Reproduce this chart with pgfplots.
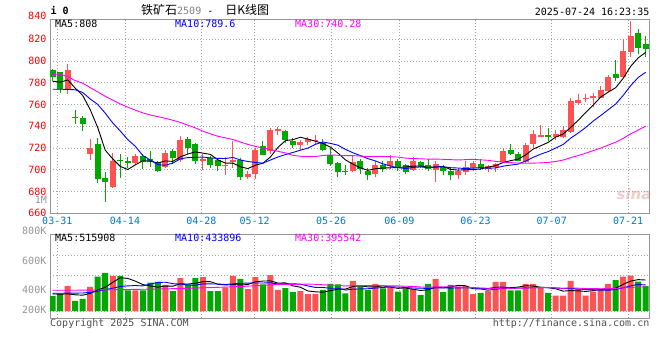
\documentclass[border=0pt]{standalone}
\usepackage{pgfplots}
\pgfplotsset{compat=1.18}
\usepackage{pgfplotstable}
\usepackage{fontspec}
\setmonofont{DejaVu Sans Mono}
\newfontfamily\cjk{Noto Sans CJK SC}
\newfontfamily\sinafont{DejaVu Sans}
\definecolor{kred}{RGB}{255,82,82}
\definecolor{kgreen}{RGB}{0,168,0}
\definecolor{mablue}{RGB}{0,0,255}
\definecolor{mamag}{RGB}{255,0,255}
\definecolor{dateblue}{RGB}{0,120,205}
\definecolor{gridc}{RGB}{165,165,165}
\definecolor{boxc}{RGB}{150,150,150}
\definecolor{lblgray}{RGB}{150,150,150}
\definecolor{copyc}{RGB}{80,80,80}
\definecolor{wm}{RGB}{238,205,205}
\pgfplotstableread{
x up o h l c v m5 m10 m30 w5 w10 w30
0 0 791.3 792.3 781.3 785.2 250 781.3 774 787.5 285 295 345
1 0 789.4 790.0 770.2 773.8 283 780.5 774 788 280 295 345
2 1 774.5 797.5 769.2 792.0 416 782.5 773.8 785.5 285 298 346
3 0 748.7 754.5 742.5 747.5 167 775 773.5 782 270 298 346
4 0 747.7 749.8 736.0 742.5 200 768.2 771 779.5 263.2 300 347
5 1 714.8 728.6 709.2 720.0 400 755.2 765 775.5 293.2 310 348
6 0 724.0 729.2 687.7 691.7 571 738.7 760 771.5 350.8 330 350
7 0 692.3 697.8 670.2 688.3 633 718.0 752 767.5 394.2 355 352
8 1 684.4 715.2 683.7 707.7 583 710.0 743 764 477.4 380 354
9 0 709.2 714.8 692.3 707.7 583 703.1 735.6 760.5 554 408.6 356
10 0 707.7 711.4 701.5 705.8 345 700.2 727.7 757.5 543 418.1 358
11 1 706.6 714.5 705.2 712.9 345 704.5 721.6 754.8 497.8 424.3 360
12 0 712.7 714.5 700.9 706.8 345 708.2 713.1 752.3 440.2 417.2 362
13 0 709.8 717.6 702.2 706.8 471 708.0 709.0 750.3 417.8 447.6 364
14 0 707.2 708.3 697.8 698.5 483 706.2 704.6 748.8 397.8 475.9 366
15 1 702.6 718.3 701.5 715.4 433 708.1 704.2 747.3 415.4 479.2 369
16 0 717.5 719.4 705.2 710.8 333 707.7 706.1 745.5 413 455.4 372
17 1 708.6 731.4 707.0 727.7 549 711.8 710.0 743.5 453.8 447 375
18 0 728.6 730.2 714.5 720.0 445 714.5 711.2 741 448.6 433.2 378
19 0 723.7 724.6 705.5 708.3 549 716.4 711.3 738.5 461.8 429.8 382
20 1 707.7 714.5 700.0 709.8 566 715.3 711.7 735.5 488.4 451.9 386
21 0 710.8 713.0 702.0 704.6 333 714.1 710.9 733 488.4 450.7 390
22 0 708.6 710.8 699.1 703.1 333 709.2 710.5 730.8 445.2 449.5 394
23 1 703.1 711.4 695.4 704.6 388 706.1 710.3 729.3 433.8 441.2 398
24 1 706.8 726.2 701.5 708.6 583 706.1 711.3 727.8 440.6 451.2 403
25 0 709.2 710.8 690.2 692.9 533 702.8 709.0 725.5 434 461.2 408
26 1 693.8 698.5 691.7 696.3 366 701.1 707.6 723.3 440.6 464.5 414
27 1 696.3 720.0 691.7 718.5 566 704.2 706.7 721.5 487.2 466.2 421
28 0 722.2 726.8 713.2 713.8 445 706.0 706.1 720 498.6 466.2 428
29 1 716.9 738.5 714.5 736.9 599 711.7 708.9 718.6 501.8 471.2 436.5
30 1 735.4 739.0 731.7 737.2 350 720.5 711.7 717.0 465.2 449.6 439.9
31 0 736.0 736.5 724.6 727.7 383 726.8 714.0 715.5 468.6 454.6 443.2
32 0 726.2 729.2 720.0 722.5 316 727.6 715.9 713.2 418.6 452.9 439.9
33 1 722.5 727.7 718.5 725.2 333 729.9 718.0 712.4 396.2 447.4 445.4
34 1 725.2 730.2 722.5 728.3 283 728.2 719.9 712.0 333 417.4 448.2
35 1 726.2 732.3 723.1 727.4 283 726.2 723.4 712.2 319.6 392.4 444.3
36 0 724.6 728.6 716.9 717.8 350 724.2 725.5 713.1 313 390.8 436.9
37 0 713.8 720.0 703.1 705.5 450 720.8 724.2 713.6 339.8 379.2 430.8
38 0 706.2 706.8 692.9 697.5 445 715.3 722.6 713.3 362.2 379.2 426.2
39 0 699.1 704.6 694.8 697.5 295 709.1 718.7 713.0 364.6 348.8 416.6
40 1 699.1 712.3 697.8 707.0 500 705.1 715.6 713.0 408 363.8 421.8
41 0 708.3 709.8 696.3 700.9 416 701.7 713.0 712.6 421.2 367.1 424.1
42 0 698.5 701.5 690.2 694.8 350 699.5 710.2 712.2 401.2 370.5 424.3
43 1 696.3 707.7 693.8 704.6 450 701.0 708.1 712.1 402.2 382.2 423.6
44 0 704.6 707.7 697.8 700.9 378 701.6 705.4 712.2 418.8 391.7 420.1
45 1 703.1 713.8 700.9 707.7 388 701.8 703.4 712.0 396.4 402.2 418.6
46 0 707.7 709.8 699.0 702.5 321 702.1 701.9 711.7 377.4 399.3 418.2
47 0 704.6 705.2 695.9 697.5 366 702.6 701.1 710.7 380.6 390.9 412.1
48 1 700.0 711.4 698.5 707.7 366 703.3 702.1 710.3 363.8 383 409.5
49 0 706.8 707.7 701.5 702.2 266 703.5 702.6 710.1 341.4 380.1 400
50 0 704.6 710.2 698.5 700.9 450 702.2 702.0 709.8 353.8 375.1 396.2
51 1 699.4 707.7 689.2 705.2 533 702.7 702.4 709.8 396.2 386.8 402.8
52 0 702.2 704.0 694.8 699.1 316 703.0 702.8 709.6 386.2 383.4 402.3
53 0 698.5 701.5 690.2 694.8 433 700.4 701.9 709.3 399.6 381.7 403.8
54 1 695.4 701.5 691.7 698.5 405 699.7 701.6 709.0 427.4 384.4 397.8
55 1 697.5 707.7 695.4 702.5 416 700.0 701.1 709.3 420.6 387.2 393.9
56 1 701.5 708.3 699.0 706.2 283 700.2 701.5 709.6 370.6 383.4 391.2
57 0 705.2 710.2 700.0 701.5 300 700.7 701.9 709.1 367.4 376.8 382.3
58 1 700.9 704.6 697.8 703.1 333 702.4 701.4 708.7 347.4 373.5 378.6
59 1 702.2 706.2 697.8 705.5 483 703.8 701.7 707.7 363 395.2 374.7
60 1 706.8 720.0 706.2 716.9 483 706.6 703.3 707.0 376.4 398.5 379.1
61 0 718.5 723.7 713.2 714.8 345 708.4 704.3 706.6 388.8 379.7 377.9
62 0 714.8 716.0 707.7 708.3 345 709.7 705.2 706.1 397.8 382.6 378.8
63 1 707.0 724.6 706.5 722.5 450 713.6 708.0 706.0 421.2 384.3 382.7
64 1 723.4 736.3 719.4 732.6 450 719.0 711.4 706.1 414.6 388.8 388.3
65 1 730.2 740.9 730.2 731.7 395 722.0 714.3 706.3 397 386.7 392
66 0 731.7 738.8 726.2 730.2 300 725.1 716.7 706.7 388 388.4 390.4
67 1 730.2 736.3 727.0 733.2 255 730.0 719.9 707.6 370 383.9 383.9
68 1 730.2 740.0 729.5 736.3 255 732.8 723.2 708.9 331 376.1 377.5
69 1 734.8 766.2 734.2 763.1 500 738.9 729.0 711.1 341 377.8 384.4
70 1 761.5 769.2 759.4 764.0 366 745.4 733.7 713.0 335.2 366.1 379.9
71 1 764.6 769.2 762.5 766.2 255 752.6 738.8 715.2 326.2 357.1 374.5
72 1 765.5 770.2 757.8 767.4 321 759.4 744.7 717.6 339.4 354.7 373.6
73 1 766.2 776.9 765.5 773.2 366 766.8 749.8 719.9 361.6 346.3 370.8
74 1 772.3 787.1 771.7 785.5 450 771.3 755.1 722.7 351.6 346.3 373.2
75 0 788.0 800.9 781.8 784.6 516 775.4 760.4 725.3 381.6 358.4 377.4
76 1 785.5 820.0 784.6 809.2 571 784.0 768.3 728.8 444.8 385.5 385.8
77 1 808.6 836.3 804.0 823.1 588 795.1 777.3 733.0 498.2 418.8 393.2
78 0 825.5 829.5 806.2 811.7 488 802.8 784.8 736.5 522.6 442.1 397.2
79 0 815.7 822.5 804.0 810.8 416 807.9 789.6 740.1 515.8 433.7 402.2
}\dataT
\pgfplotsset{
  kbase/.style={
    scale only axis, anchor=south west, width=599pt,
    xmin=-0.36, xmax=79.44,
    axis line style={draw=boxc, line width=0.8pt},
    xtick={0.61,9.63,19.8,26.91,37.1,46.18,56.33,66.48,76.65},
    grid=major,
    major grid style={draw=gridc, line width=0.7pt, dash pattern=on 1pt off 2pt},
    major tick length=0pt,
    tick style={draw=none},
    /pgf/number format/assume math mode=true,
  },
  upc/.style={restrict expr to domain={\thisrow{up}}{0.5:1.5}},
  dnc/.style={restrict expr to domain={\thisrow{up}}{-0.5:0.5}},
  kstick/.style 2 args={draw=none, mark=none, forget plot,
    error bars/.cd, y dir=plus, y explicit, error mark=none,
    error bar style={draw=#1, line width=#2, solid}},
}
\newcommand{\tf}{\ttfamily\fontsize{10}{10}\selectfont}
\begin{document}
\begin{tikzpicture}[x=1pt,y=1pt]
\useasboundingbox (0,0) rectangle (660,360);
\fill[white] (0,0) rectangle (660,360);
\node[text=wm, font=\sinafont\bfseries\itshape\fontsize{15}{15}\selectfont] at (634,166) {sina};

\begin{axis}[kbase, at={(50pt,146.7pt)}, height=194.3pt, ymin=660, ymax=838.5,
  xticklabels={03-31,04-14,04-28,05-12,05-26,06-09,06-23,07-07,07-21},
  xticklabel style={font=\tf, text=dateblue},
  ytick={660,680,700,720,740,760,780,800,820},
  yticklabels={660,680,700,720,740,760,780,800,820},
  yticklabel style={font=\tf, text=red},
]
\addplot[upc, kstick={kred}{1pt}]
  table[x=x, y=l, y error plus expr={\thisrow{h}-\thisrow{l}}]{\dataT};
\addplot[upc, kstick={kred}{6pt}]
  table[x=x, y=o, y error plus expr={max(\thisrow{c}-\thisrow{o},0.9)}]{\dataT};
\addplot[dnc, kstick={kgreen}{1pt}]
  table[x=x, y=l, y error plus expr={\thisrow{h}-\thisrow{l}}]{\dataT};
\addplot[dnc, kstick={kgreen}{6pt}]
  table[x=x, y=c, y error plus expr={max(\thisrow{o}-\thisrow{c},0.9)}]{\dataT};
\addplot[black, line width=0.9pt, mark=none] table[x=x, y=m5]{\dataT};
\addplot[mablue, line width=0.9pt, mark=none] table[x=x, y=m10]{\dataT};
\addplot[mamag, line width=0.9pt, mark=none] table[x=x, y=m30]{\dataT};
\end{axis}

\begin{axis}[kbase, at={(50pt,42pt)}, height=83.7pt, ymin=-116.6, ymax=1277,
  xticklabels={}, ytick={0,599,932}, yticklabels={}]
\addplot[ybar, bar width=6pt, bar shift=0pt, fill=kred, draw=none, upc] table[x=x, y=v]{\dataT};
\addplot[ybar, bar width=6pt, bar shift=0pt, fill=kgreen, draw=none, dnc] table[x=x, y=v]{\dataT};
\addplot[black, line width=0.9pt, mark=none] table[x=x, y=w5]{\dataT};
\addplot[mablue, line width=0.9pt, mark=none] table[x=x, y=w10]{\dataT};
\addplot[mamag, line width=0.9pt, mark=none] table[x=x, y=w30]{\dataT};
\end{axis}

\node[anchor=west, inner sep=0, font=\ttfamily\bfseries\fontsize{10}{10}\selectfont] at (50.5,349) {i 0};
\node[anchor=west, inner sep=0] at (141,350) {\fontsize{12}{12}\selectfont{\cjk 铁矿石}{\tf\textcolor{gray}{2509}\ -\ \ }{\cjk 日K线图}};
\node[anchor=east, inner sep=0, font=\tf] at (649.5,348.3) {2025-07-24 16:23:35};
\node[anchor=east, inner sep=0, font=\tf, text=red] at (46.5,343.7) {840};
\node[anchor=west, inner sep=0, font=\tf] at (55,336.5) {MA5:808};
\node[anchor=west, inner sep=0, font=\tf, text=mablue] at (175,336.5) {MA10:789.6};
\node[anchor=west, inner sep=0, font=\tf, text=mamag] at (295,336.5) {MA30:740.28};
\node[anchor=west, inner sep=0, font=\tf] at (55,121.7) {MA5:515908};
\node[anchor=west, inner sep=0, font=\tf, text=mablue] at (175,121.7) {MA10:433896};
\node[anchor=west, inner sep=0, font=\tf, text=mamag] at (295,121.7) {MA30:395542};
\node[anchor=east, inner sep=0, font=\tf, text=lblgray] at (47,160) {1M};
\node[anchor=east, inner sep=0, font=\tf, text=lblgray] at (46.5,129.3) {800K};
\node[anchor=east, inner sep=0, font=\tf, text=lblgray] at (46.5,99.3) {600K};
\node[anchor=east, inner sep=0, font=\tf, text=lblgray] at (46.5,70) {400K};
\node[anchor=east, inner sep=0, font=\tf, text=lblgray] at (46.5,50) {200K};
\node[anchor=west, inner sep=0, font=\tf, text=copyc] at (50,36.7) {Copyright 2025 SINA.COM};
\node[anchor=east, inner sep=0, font=\tf, text=copyc] at (649.5,36.7) {http://finance.sina.com.cn};
\end{tikzpicture}
\end{document}
